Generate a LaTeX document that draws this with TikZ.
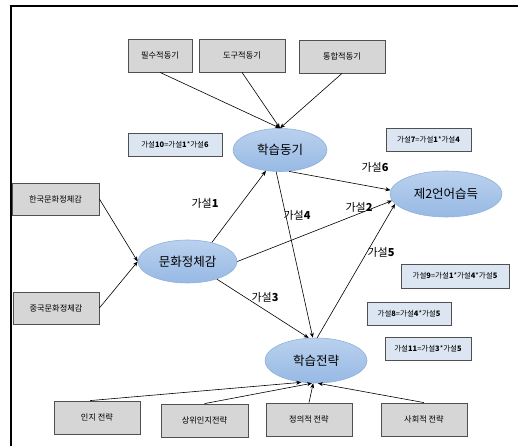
\documentclass[tikz,border=0pt]{standalone}
\usepackage{fontspec}
\newfontfamily\kr{Noto Sans CJK KR}
\usetikzlibrary{shapes.geometric,arrows.meta}
\definecolor{boxgray}{HTML}{D6D6D6}
\definecolor{boxedge}{HTML}{505050}
\definecolor{hypfill}{HTML}{DCE6F2}
\definecolor{elltop}{HTML}{BAD1EE}
\definecolor{ellbot}{HTML}{97B9E4}
\definecolor{elledge}{HTML}{8FB0DA}
\tikzset{
  graybox/.style={draw=boxedge, line width=0.8pt, fill=boxgray, minimum height=33pt, inner sep=0pt, font=\kr\fontsize{8.2}{9}\selectfont},
  hypbox/.style={draw=boxedge, line width=0.7pt, fill=hypfill, minimum height=23pt, inner sep=0pt, font=\kr\fontsize{7.5}{9}\selectfont},
  concept/.style={ellipse, draw=elledge, line width=0.6pt, top color=elltop, bottom color=ellbot, inner sep=0pt, font=\kr\fontsize{12.5}{14}\selectfont},
  hyplabel/.style={font=\kr\fontsize{11}{13}\selectfont, inner sep=1pt},
  arr/.style={-{Stealth[length=5pt,width=4pt,inset=1.5pt]}, line width=0.6pt, black}
}
\begin{document}
\begin{tikzpicture}[x=1pt,y=-1pt]
\useasboundingbox (0,0) rectangle (518,446);
% frame
\draw[line width=1.6pt] (11,446) -- (11,6) -- (518,6);

% top boxes
\node[graybox, minimum width=64pt] (p1) at (160,55.5) {필수적동기};
\node[graybox, minimum width=86pt] (p2) at (242,55.5) {도구적동기};
\node[graybox, minimum width=86pt] (p3) at (342,56.5) {통합적동기};

% left boxes
\node[graybox, minimum width=87pt, minimum height=32pt] (k) at (55.5,199) {한국문화정체감};
\node[graybox, minimum width=86pt, minimum height=32pt] (z) at (56,308) {중국문화정체감};

% bottom boxes
\node[graybox, minimum width=86pt] (b1) at (97,417.5) {인지 전략};
\node[graybox, minimum width=87pt] (b2) at (204.5,420.5) {상위인지전략};
\node[graybox, minimum width=86pt] (b3) at (309,419.5) {정의적 전략};
\node[graybox, minimum width=86pt] (b4) at (424,419.5) {사회적 전략};

% hypothesis boxes
\node[hypbox, minimum width=94pt] (h10) at (175,144.5) {가설{\bfseries 10}={}가설{\bfseries 1}*가설{\bfseries 6}};
\node[hypbox, minimum width=85pt] (h7) at (428.5,139.5) {가설{\bfseries 7}={}가설{\bfseries 1}*가설{\bfseries 4}};
\node[hypbox, minimum width=108pt, minimum height=24pt] (h9) at (455,276) {가설{\bfseries 9}={}가설{\bfseries 1}*가설{\bfseries 4}*가설{\bfseries 5}};
\node[hypbox, minimum width=84pt] (h8) at (409,313.5) {가설{\bfseries 8}={}가설{\bfseries 4}*가설{\bfseries 5}};
\node[hypbox, minimum width=86pt] (h11) at (428,348.5) {가설{\bfseries 11}={}가설{\bfseries 3}*가설{\bfseries 5}};

% ellipses
\node[concept, minimum width=94pt, minimum height=43pt] (m) at (280,150) {학습동기};
\node[concept, minimum width=112pt, minimum height=46pt] (L) at (446,194) {제2언어습득};
\node[concept, minimum width=99pt, minimum height=43pt] (c) at (187.5,261.5) {문화정체감};
\node[concept, minimum width=102pt, minimum height=45pt] (s) at (316,360.5) {학습전략};

% hypothesis labels
\node[hyplabel] (l1) at (205,203) {가설{\bfseries 1}};
\node[hyplabel] (l6) at (375,167) {가설{\bfseries 6}};
\node[hyplabel] (l4) at (297,215) {가설{\bfseries 4}};
\node[hyplabel] (l2) at (359,207) {가설{\bfseries 2}};
\node[hyplabel] (l5) at (381,252) {가설{\bfseries 5}};
\node[hyplabel] (l3) at (265,297) {가설{\bfseries 3}};

% motivation arrows
\draw[arr] (p1.south) -- (m.north);
\draw[arr] (p2.south) -- (m.north);
\draw[arr] (p3.south) -- (m.north);

% identity arrows
\draw[arr] (k.east) -- (c.west);
\draw[arr] (z.east) -- (c.west);

% hypotheses
\draw[arr] (c.38) -- (m.236);
\draw[arr] (m.293) -- (L.176);
\draw[arr] (c.east) -- (L.187);
\draw[arr] (m.260) -- (s.98);
\draw[arr] (c.329) -- (s.108);
\draw[arr] (s.87) -- (L.191);

% strategy arrows
\draw[arr] ([xshift=-7pt]b1.north) -- (s.236);
\draw[arr] (b2.north) -- (s.260);
\draw[arr] (b3.north) -- (s.263);
\draw[arr] (b4.north) -- (s.275);
\end{tikzpicture}
\end{document}
